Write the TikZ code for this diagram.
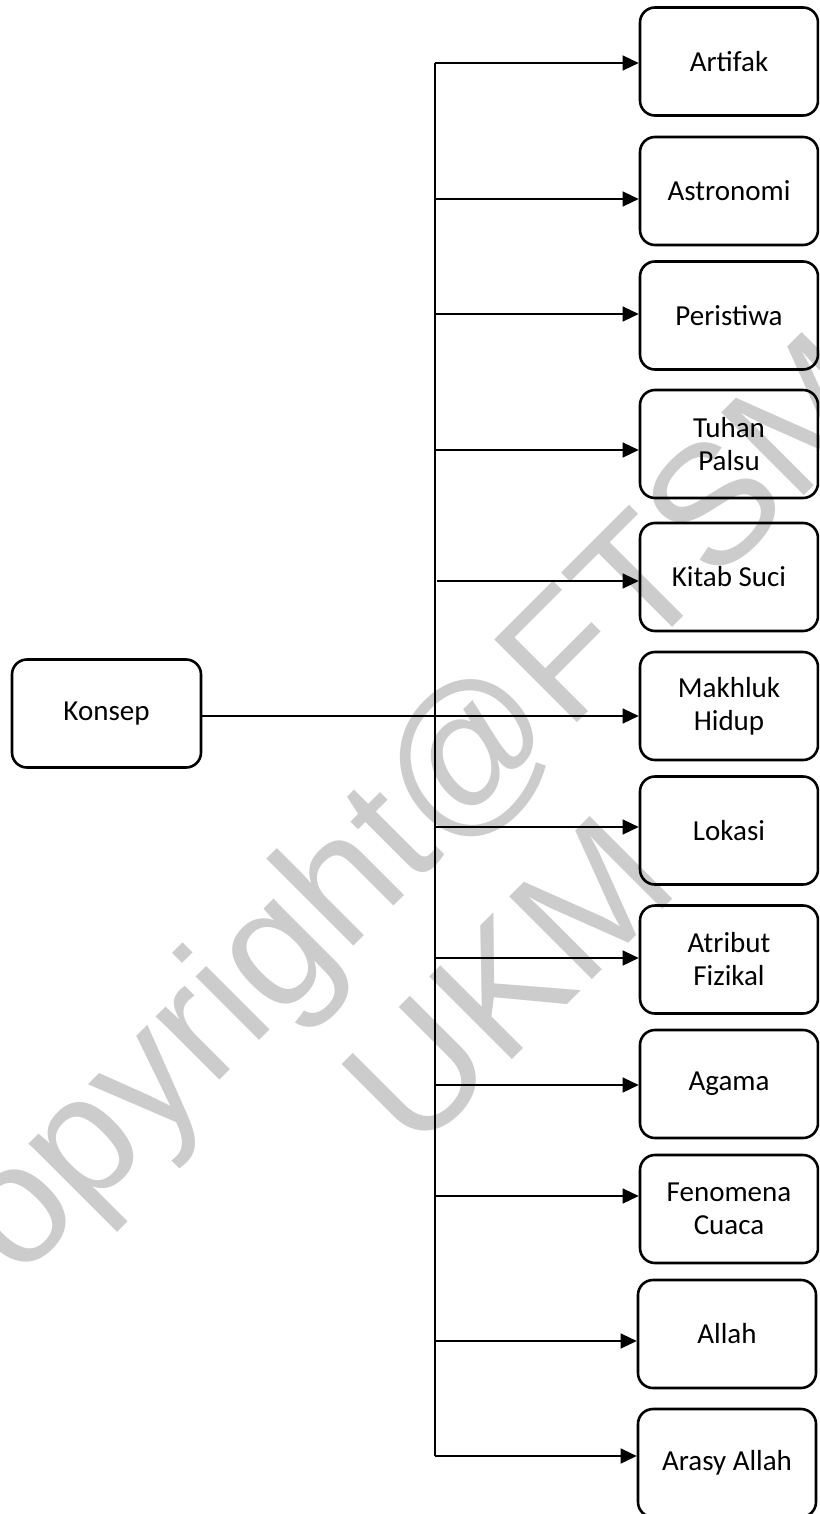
\documentclass[tikz,border=0pt]{standalone}
\usepackage{fontspec}
\setmainfont{Carlito}
\newfontfamily\wmfont{Liberation Sans}
\usetikzlibrary{arrows.meta}
\definecolor{wmgray}{RGB}{204,204,204}
\begin{document}
\begin{tikzpicture}[x=0.5pt,y=-0.5pt,
  box/.style={draw, line width=1.3pt, rounded corners=7.5pt, minimum width=89pt,
    minimum height=54pt, align=center, inner sep=2pt,
    font=\fontsize{14.5}{16.5}\selectfont},
  conn/.style={line width=0.65pt},
  arr/.style={conn, -{Triangle[length=8pt,width=7.5pt]}},
  wm/.style={text=wmgray, font=\wmfont\fontsize{85}{95}\selectfont, rotate=45, inner sep=0pt}]
\path[use as bounding box] (0,0) rectangle (819,1514);
\clip (0,0) rectangle (819,1514);
% watermark
\node[wm, anchor=base west] (wm1) at (-69,1369) {Copyright@FTSM};
\node[wm, anchor=base] (wm2) at (549,1023) {UKM};
% boxes
\node[box] (konsep) at (106.5,713.5) [minimum width=94.5pt] {Konsep};
\node[box] (b1) at (729,61.5) {Artifak};
\node[box] (b2) at (729,191) {Astronomi};
\node[box] (b3) at (729,315.5) {Peristiwa};
\node[box] (b4) at (729,444) {Tuhan\\Palsu};
\node[box] (b5) at (729,577) {Kitab Suci};
\node[box] (b6) at (729,706) {Makhluk\\Hidup};
\node[box] (b7) at (729,830.5) {Lokasi};
\node[box] (b8) at (729,959.5) {Atribut\\Fizikal};
\node[box] (b9) at (729,1084) {Agama};
\node[box] (b10) at (729,1209) {Fenomena\\Cuaca};
\node[box] (b11) at (727,1334) {Allah};
\node[box] (b12) at (727,1463) {Arasy Allah};
% trunk coordinates
\coordinate (t1) at (435,63);
\coordinate (t2) at (435,199);
\coordinate (t3) at (435,314);
\coordinate (t4) at (435,450);
\coordinate (t5) at (437,581);
\coordinate (t6) at (435,716);
\coordinate (t7) at (435,827);
\coordinate (t8) at (435,958);
\coordinate (t9) at (435,1085);
\coordinate (t10) at (435,1196);
\coordinate (t11) at (435,1341);
\coordinate (t12) at (435,1456);
\draw[conn] (t1) -- (t12);
\foreach \i in {1,2,3,4,5,7,8,9,10,11,12}{
  \draw[arr] (t\i) -- (t\i -| b\i.west);
}
\draw[arr] (konsep.east |- t6) -- (t6 -| b6.west);
\end{tikzpicture}
\end{document}
